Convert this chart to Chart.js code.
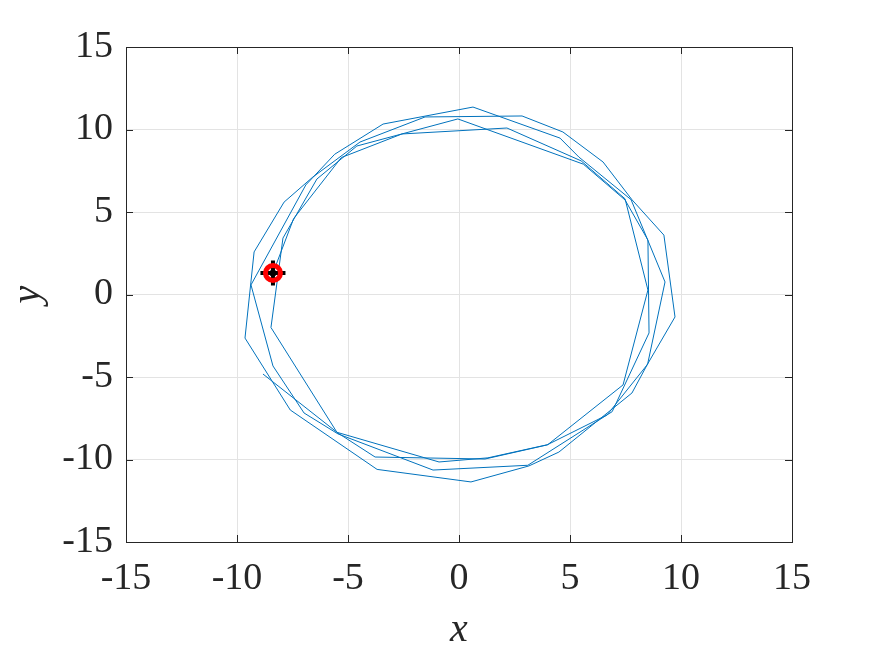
<!DOCTYPE html>
<html><head><meta charset="utf-8">
<script src="https://cdn.jsdelivr.net/npm/chart.js@4/dist/chart.umd.min.js"></script>
<style>html,body{margin:0;padding:0;background:#fff;}</style>
</head><body>
<canvas id="c" width="875" height="657"></canvas>
<script>
// trajectory, in path order
const pathX = [-8.83,-5.45,-3.78,1.17,3.96,6.67,8.47,9.73,9.23,7.80,6.49,4.68,2.84,-1.53,-4.46,-6.60,-7.88,-9.23,-9.64,-7.60,
  -3.69,0.54,3.15,4.50,7.79,8.50,9.28,7.75,5.40,4.55,0.63,-3.42,-5.60,-6.90,-9.37,-8.38,-6.98,
  -5.45,-1.17,3.10,6.90,8.56,8.51,7.48,5.60,-0.05,-4.60,-6.40,-7.93,-8.47,
  -5.50,-0.90,1.30,4.00,7.39,8.51,7.48,5.50,2.16,-2.57,-5.30,-7.45,-8.38];
const pathY = [-4.82,-8.40,-9.85,-9.97,-9.12,-7.30,-4.27,-1.36,3.60,5.73,8.03,9.85,10.82,10.76,9.24,7.10,5.60,2.58,-2.64,-7.00,
  -10.60,-11.36,-10.39,-9.55,-5.97,-4.20,0.76,5.75,8.33,9.48,11.36,10.33,8.50,6.64,0.58,-4.33,-7.18,
  -8.45,-10.64,-10.35,-7.10,-2.33,3.30,5.73,7.90,10.64,9.00,7.00,3.42,-2.00,
  -8.35,-10.15,-9.90,-9.10,-5.48,0.27,5.80,8.10,10.09,9.73,8.30,4.60,1.30];
const markerX = [-8.38];
const markerY = [1.30];
const xTicks = [-15,-10,-5,0,5,10,15];
const yTicks = [-15,-10,-5,0,5,10,15];

const pts = (xs, ys) => xs.map((x, i) => ({x: x, y: ys[i]}));
const AX = '#262626';
const FONT = 'Liberation Serif, Times New Roman, serif';

const boxPlugin = {
  id: 'box',
  afterDraw(chart) {
    const {ctx, chartArea: a, scales: {x, y}} = chart;
    ctx.save();
    ctx.strokeStyle = AX;
    ctx.lineWidth = 1;
    const tl = 7;
    ctx.beginPath();
    xTicks.forEach(v => {
      const px = Math.round(x.getPixelForValue(v)) + 0.5;
      ctx.moveTo(px, a.bottom); ctx.lineTo(px, a.bottom - tl);
      ctx.moveTo(px, a.top); ctx.lineTo(px, a.top + tl);
    });
    yTicks.forEach(v => {
      const py = Math.round(y.getPixelForValue(v)) + 0.5;
      ctx.moveTo(a.left, py); ctx.lineTo(a.left + tl, py);
      ctx.moveTo(a.right, py); ctx.lineTo(a.right - tl, py);
    });
    ctx.stroke();
    ctx.strokeRect(Math.round(a.left) + 0.5, Math.round(a.top) + 0.5, Math.round(a.right - a.left), Math.round(a.bottom - a.top));
    ctx.restore();
  }
};

new Chart(document.getElementById('c'), {
  type: 'scatter',
  data: {
    datasets: [
      {data: pts(markerX, markerY), pointStyle: 'circle', pointRadius: 7.5, borderColor: '#ff0000', borderWidth: 5, backgroundColor: 'rgba(0,0,0,0)', order: 0},
      {data: pts(markerX, markerY), pointStyle: 'circle', pointRadius: 3.5, backgroundColor: '#000000', borderColor: '#000000', borderWidth: 0, order: 1},
      {data: pts(markerX, markerY), pointStyle: 'cross', pointRadius: 12.5, borderColor: '#000000', borderWidth: 4, order: 2},
      {data: pts(pathX, pathY), showLine: true, borderColor: '#0072BD', borderWidth: 1, pointRadius: 0, tension: 0, fill: false, order: 3}
    ]
  },
  options: {
    responsive: false,
    animation: false,
    events: [],
    plugins: {legend: {display: false}, tooltip: {enabled: false}},
    layout: {padding: {top: 47, right: 83, left: 0, bottom: 0}},
    scales: {
      x: {
        type: 'linear', min: -15, max: 15,
        afterBuildTicks: s => { s.ticks = xTicks.map(v => ({value: v})); },
        ticks: {font: {family: FONT, size: 38}, color: AX, padding: 14, maxRotation: 0, callback: v => String(v)},
        grid: {color: '#e3e3e3', drawTicks: false},
        border: {display: false},
        title: {display: true, text: 'x', font: {family: FONT, size: 40, style: 'italic'}, color: AX, padding: {top: 0, bottom: 3}},
        afterFit: s => { s.height = 115; }
      },
      y: {
        type: 'linear', min: -15, max: 15,
        afterBuildTicks: s => { s.ticks = yTicks.map(v => ({value: v})); },
        ticks: {font: {family: FONT, size: 38}, color: AX, padding: 13, callback: v => String(v)},
        grid: {color: '#e3e3e3', drawTicks: false},
        border: {display: false},
        title: {display: true, text: 'y', font: {family: FONT, size: 40, style: 'italic'}, color: AX, padding: {top: 4, bottom: 0}},
        afterFit: s => { s.width = 126; }
      }
    }
  },
  plugins: [boxPlugin]
});
</script>
</body></html>
